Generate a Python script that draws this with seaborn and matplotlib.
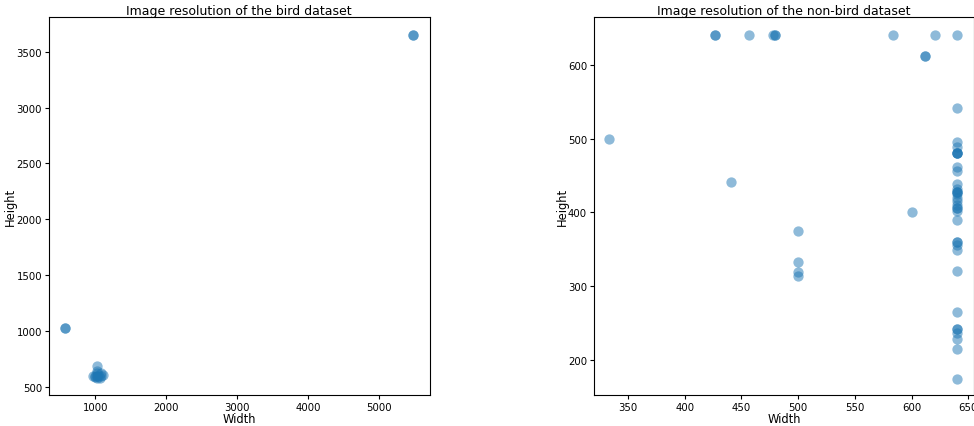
import matplotlib
matplotlib.use("Agg")
import matplotlib.pyplot as plt
import seaborn as sns
import pandas as pd

# Bird dataset image sizes
bird_width = [576, 576, 5472, 5472, 960, 1000, 1024, 1024, 1024, 1024, 1024, 1050, 1080, 1100, 1024, 1080, 1000, 1060]
bird_height = [1024, 1024, 3648, 3648, 600, 600, 683, 576, 640, 600, 600, 600, 600, 610, 620, 620, 590, 580]

# Non-bird dataset image sizes
nonbird_width = [427, 427, 457, 478, 480, 480, 584, 621, 640, 612, 612,
                 333, 441, 600, 500, 500, 500, 500,
                 640, 640, 640, 640, 640, 640, 640, 640, 640, 640, 640, 640, 640, 640,
                 640, 640, 640, 640, 640, 640, 640, 640, 640, 640, 640, 640, 640, 640,
                 640, 640, 640, 640, 640, 640]
nonbird_height = [640, 640, 640, 640, 640, 640, 640, 640, 640, 612, 612,
                  500, 441, 400, 375, 333, 319, 313,
                  541, 496, 489, 480, 480, 480, 462, 456, 438, 431, 427, 427, 427, 420,
                  415, 406, 406, 402, 389, 360, 360, 356, 349, 320, 264, 242, 242, 236,
                  228, 214, 174, 425, 480, 410]

bird = pd.DataFrame({"Width": bird_width, "Height": bird_height})
nonbird = pd.DataFrame({"Width": nonbird_width, "Height": nonbird_height})

W, H = 974, 427
fig = plt.figure(figsize=(W / 100, H / 100), dpi=100)
ax1 = fig.add_axes([49 / W, (H - 396) / H, (429.5 - 49) / W, (396 - 18) / H])
ax2 = fig.add_axes([594 / W, (H - 396) / H, (974 - 594) / W, (396 - 18) / H])

color = "#1f77b4"
sns.scatterplot(data=bird, x="Width", y="Height", ax=ax1, color=color,
                alpha=0.5, s=55, linewidth=0)
sns.scatterplot(data=nonbird, x="Width", y="Height", ax=ax2, color=color,
                alpha=0.5, s=55, linewidth=0)

ax1.set_xlim(345, 5710)
ax1.set_ylim(427, 3810)
ax2.set_xlim(320, 655)
ax2.set_ylim(152, 665)

ax1.set_title("Image resolution of the bird dataset", fontsize=9, pad=2.5)
ax2.set_title("Image resolution of the non-bird dataset", fontsize=9, pad=2.5)
for ax in (ax1, ax2):
    ax.tick_params(labelsize=7.3, length=3, width=0.8, pad=2)
    ax.set_xlabel("Width", fontsize=8.3, labelpad=0)
    ax.set_ylabel("Height", fontsize=8.3, labelpad=-0.5)

fig.savefig("out.png", dpi=100)
